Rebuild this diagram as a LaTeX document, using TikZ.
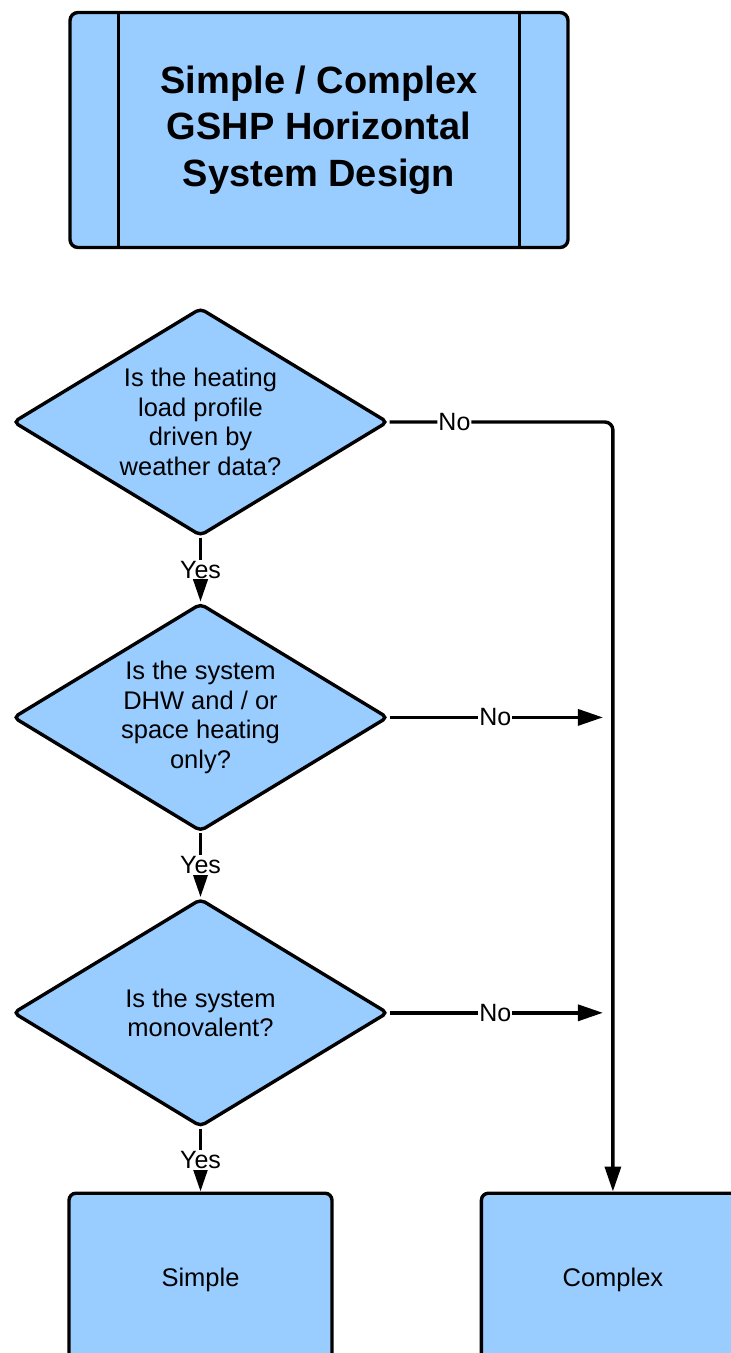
\documentclass[tikz,border=0pt]{standalone}
\usepackage{fontspec}
\setmainfont{Liberation Sans}
\usetikzlibrary{arrows.meta,positioning,shapes.geometric}
\definecolor{boxblue}{RGB}{153,204,255}
\tikzset{
 titlebox/.style={rectangle,rounded corners=8pt,draw=black,line width=3.4pt,fill=boxblue,minimum width=498pt,minimum height=235pt,align=center,inner sep=0pt,font=\fontsize{38}{46.5}\selectfont\bfseries},
 question/.style={diamond,aspect=1.64,rounded corners=5pt,draw=black,line width=3.4pt,fill=boxblue,minimum width=375pt,minimum height=228pt,inner sep=0pt,align=center,font=\fontsize{25.5}{29.5}\selectfont},
 result/.style={rectangle,rounded corners=7pt,draw=black,line width=3.4pt,fill=boxblue,minimum width=263pt,minimum height=174pt,font=\fontsize{25.5}{29.5}\selectfont},
 answer/.style={fill=white,inner sep=1pt,font=\fontsize{25}{30}\selectfont},
 arrow/.style={-{Triangle[length=25pt,width=16pt]},line width=3.4pt,draw=black}}
\begin{document}
\begin{tikzpicture}[x=1pt,y=-1pt,node distance=64pt]
\useasboundingbox (0,0) rectangle (731,1353);
\clip (0,0) rectangle (731,1353);
\node[titlebox] (title) at (319,130) {Simple / Complex\\GSHP Horizontal\\System Design};
\draw[line width=3.4pt] ([xshift=50pt]title.north west) -- ([xshift=50pt]title.south west);
\draw[line width=3.4pt] ([xshift=-50pt]title.north east) -- ([xshift=-50pt]title.south east);
\node[question] (weather) at (200.5,422) {Is the heating\\load profile\\driven by\\weather data?};
\node[question,below=of weather] (heating) {Is the system\\DHW and / or\\space heating\\only?};
\node[question,below=of heating] (mono) {Is the system\\monovalent?};
\node[result,below=63pt of mono] (simple) {Simple};
\node[result,right=146pt of simple] (complex) {Complex};
\path (heating.east -| complex.north) ++(-10pt,0) coordinate (heatingend);
\path (mono.east -| complex.north) ++(-10pt,0) coordinate (monoend);
\draw[arrow] (weather) -- node[answer]{Yes} (heating);
\draw[arrow] (heating) -- node[answer]{Yes} (mono);
\draw[arrow] (mono) -- node[answer]{Yes} (simple);
\draw[arrow,rounded corners=8pt] (weather.east) -- node[answer,pos=0.29]{No} (weather.east -| complex.north) -- (complex.north);
\draw[arrow] (heating.east) -- node[answer,pos=0.495]{No} (heatingend);
\draw[arrow] (mono.east) -- node[answer,pos=0.495]{No} (monoend);
\end{tikzpicture}
\end{document}
